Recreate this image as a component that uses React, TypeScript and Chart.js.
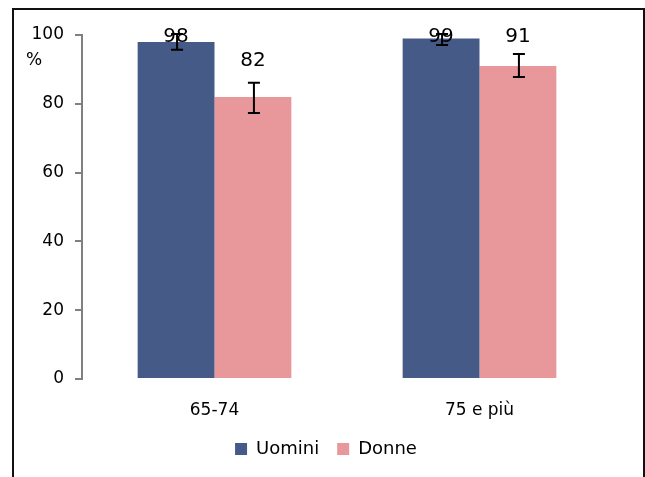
import React, { useEffect, useRef } from "react";
import { Chart, registerables } from "chart.js";

Chart.register(...registerables);

const categories = ["65-74", "75 e più"];
const seriesNames = ["Uomini", "Donne"];
const uomini = [98, 99];
const donne = [82, 91];
const uominiLow = [95.7, 97.1];
const uominiHigh = [100.3, 100.3];
const donneLow = [77.3, 87.8];
const donneHigh = [86.1, 94.5];
const yTicks = [0, 20, 40, 60, 80, 100];
const unitLabel = "%";

const COLORS = ["#465a87", "#e8979a"];
const FONT = "'DejaVu Sans', sans-serif";

const framePlugin = {
  id: "frame",
  beforeDraw(chart: any) {
    const { ctx, width, height } = chart;
    ctx.save();
    ctx.fillStyle = "#ffffff";
    ctx.fillRect(0, 0, width, height);
    ctx.strokeStyle = "#111111";
    ctx.lineWidth = 2;
    ctx.beginPath();
    ctx.moveTo(13, height);
    ctx.lineTo(13, 9);
    ctx.lineTo(644, 9);
    ctx.lineTo(644, height);
    ctx.stroke();
    ctx.fillStyle = "#000000";
    ctx.font = `17px ${FONT}`;
    ctx.textAlign = "left";
    ctx.textBaseline = "middle";
    ctx.fillText(unitLabel, 26, 61);
    ctx.restore();
  },
};

const errorPlugin = {
  id: "errbars",
  afterDatasetsDraw(chart: any) {
    const { ctx } = chart;
    const yScale = chart.scales.y;
    const lows = [uominiLow, donneLow];
    const highs = [uominiHigh, donneHigh];
    const vals = [uomini, donne];
    ctx.save();
    chart.data.datasets.forEach((_: any, i: number) => {
      const meta = chart.getDatasetMeta(i);
      meta.data.forEach((bar: any, j: number) => {
        const x = bar.x + 1;
        const yHi = yScale.getPixelForValue(highs[i][j]);
        const yLo = yScale.getPixelForValue(lows[i][j]);
        const labelY = Math.max(chart.chartArea.top + 2, yHi - 22);
        ctx.fillStyle = "#000000";
        ctx.font = `20px ${FONT}`;
        ctx.textAlign = "center";
        ctx.textBaseline = "middle";
        ctx.fillText(String(vals[i][j]), x - 1, labelY);
        ctx.strokeStyle = "#000000";
        ctx.lineWidth = 2;
        ctx.beginPath();
        ctx.moveTo(x, yHi);
        ctx.lineTo(x, yLo);
        ctx.moveTo(x - 6, yHi);
        ctx.lineTo(x + 6, yHi);
        ctx.moveTo(x - 6, yLo);
        ctx.lineTo(x + 6, yLo);
        ctx.stroke();
      });
    });
    ctx.restore();
  },
};

export default function App() {
  const ref = useRef<HTMLCanvasElement | null>(null);
  useEffect(() => {
    if (!ref.current) return;
    const chart = new Chart(ref.current, {
      type: "bar",
      data: {
        labels: categories,
        datasets: [
          {
            label: seriesNames[0],
            data: uomini,
            backgroundColor: COLORS[0],
            categoryPercentage: 0.58,
            barPercentage: 1,
          },
          {
            label: seriesNames[1],
            data: donne,
            backgroundColor: COLORS[1],
            categoryPercentage: 0.58,
            barPercentage: 1,
          },
        ],
      },
      options: {
        responsive: false,
        animation: false,
        layout: { padding: { left: 7, right: 0, top: 35, bottom: 9 } },
        plugins: {
          legend: {
            position: "bottom",
            labels: {
              boxWidth: 12,
              boxHeight: 12,
              padding: 18,
              color: "#000000",
              font: { family: FONT, size: 18 },
            },
          },
          tooltip: { enabled: false },
        },
        scales: {
          x: {
            grid: { display: false, drawTicks: false },
            border: { display: false },
            ticks: {
              color: "#000000",
              font: { family: FONT, size: 17 },
              padding: 21,
            },
            afterFit(scale: any) {
              scale.height = 43;
            },
          },
          y: {
            min: 0,
            max: 100,
            afterBuildTicks(scale: any) {
              scale.ticks = yTicks.map((v) => ({ value: v }));
            },
            grid: {
              drawOnChartArea: false,
              drawTicks: true,
              tickLength: 7,
              color: "#808080",
              lineWidth: 2,
            },
            border: { display: true, color: "#808080", width: 2 },
            ticks: {
              color: "#000000",
              font: { family: FONT, size: 17 },
              padding: 11,
            },
            afterFit(scale: any) {
              scale.width = 75;
            },
          },
          y2: {
            position: "right",
            min: 0,
            max: 100,
            grid: { display: false, drawTicks: false },
            border: { display: false },
            ticks: { display: false },
            afterFit(scale: any) {
              scale.width = 33;
            },
          },
        },
      },
      plugins: [framePlugin, errorPlugin],
    });
    return () => chart.destroy();
  }, []);
  return (
    <div style={{ position: "fixed", left: 0, top: 0, width: 645, height: 477 }}>
      <canvas ref={ref} width={645} height={477} style={{ display: "block" }} />
    </div>
  );
}
